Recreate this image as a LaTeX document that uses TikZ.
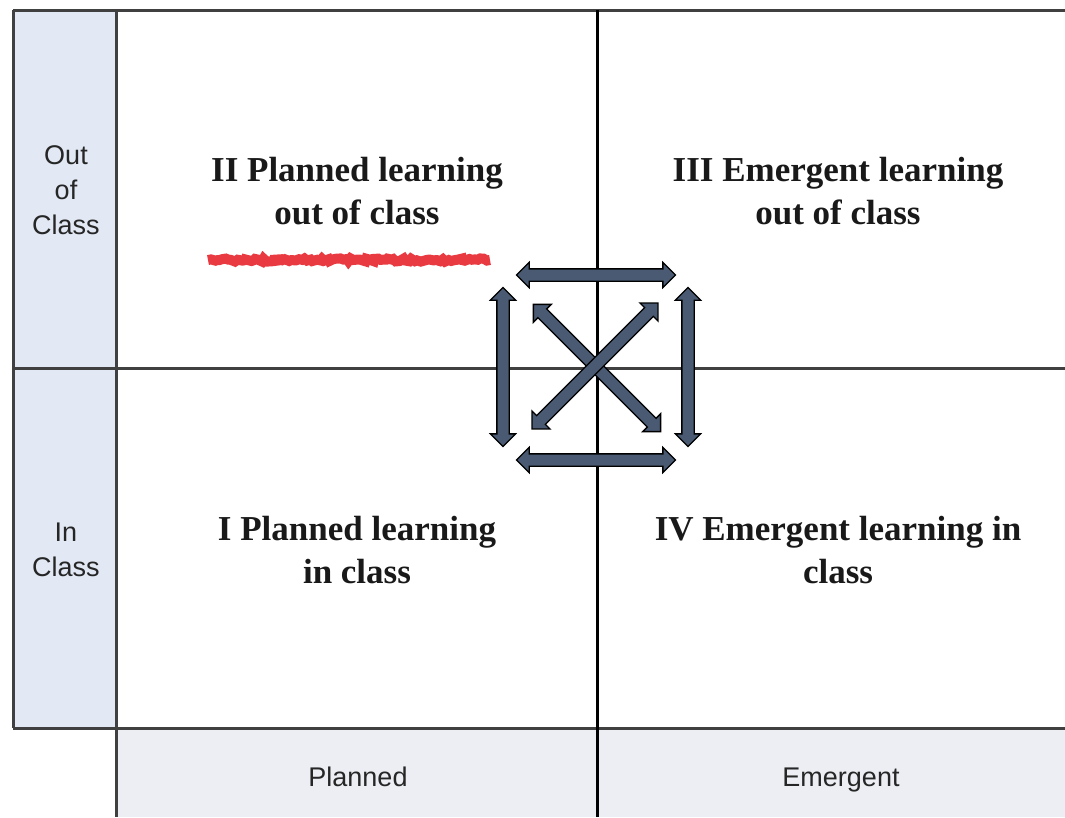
\documentclass[tikz,border=0pt]{standalone}
\usepackage{fontspec}
\setmainfont{Liberation Serif}
\setsansfont{Liberation Sans}
\usetikzlibrary{shapes.arrows,decorations.pathmorphing}
\definecolor{sidefill}{RGB}{226,233,244}
\definecolor{footfill}{RGB}{236,238,243}
\definecolor{arrowfill}{RGB}{74,90,114}
\definecolor{scribblered}{RGB}{232,58,64}
\tikzset{learngrid/.style={x=1pt,y=-1pt},
  gridline/.style={line width=3pt,draw=black!75},
  quadtext/.style={align=center,text=black!90,font=\bfseries\fontsize{35}{43}\selectfont},
  axistext/.style={align=center,text=black!85,font=\sffamily\fontsize{27}{35}\selectfont},
  twoway/.style={double arrow,draw=black,fill=arrowfill,line width=1.3pt,
    inner xsep=0pt,inner ysep=5.5pt,double arrow head extend=6.5pt,
    double arrow head indent=0pt},
  scribble/.style={scribblered,line width=10pt,decorate,
    decoration={random steps,segment length=3pt,amplitude=1.6pt}}}

\begin{document}
\begin{tikzpicture}[learngrid]
\useasboundingbox (0,0) rectangle (1065,817);

% shaded axis strips
\fill[sidefill] (13,10) rectangle (116,728);
\fill[footfill] (116,728) rectangle (1065,817);

\draw[gridline] (13,10) -- (1065,10)
      (13,10) -- (13,728)
      (116,10) -- (116,817)
      (13,368) -- (1065,368)
      (13,728) -- (1065,728);
\draw[gridline,draw=black] (597,10) -- (597,817);

% quadrants
\node[quadtext] (plannedout) at (357,191) {II Planned learning\\out of class};
\node[quadtext] (emergentout) at (838,191) {III Emergent learning\\out of class};
\node[quadtext] (plannedin) at (357,550) {I Planned learning\\in class};
\node[quadtext] (emergentin) at (838,550) {IV Emergent learning in\\class};

% axis labels
\node[axistext] (outclass) at (66,190) {Out\\of\\Class};
\node[axistext] (inclass) at (66,550) {In\\Class};
\node[axistext,anchor=base] (planned) at (358,786) {Planned};
\node[axistext,anchor=base] (emergent) at (841,786) {Emergent};

\draw[scribble] (208,260) -- (490,260);
%\draw[scribble] (210,262) -- (488,258);

% arrows round the centre
\node[twoway,minimum height=159pt] (toparrow) at (596,275) {};
\node[twoway,minimum height=159pt] (bottomarrow) at (596,460) {};
\node[twoway,minimum height=159pt,rotate=90] (leftarrow) at (503,367) {};
\node[twoway,minimum height=159pt,rotate=90] (rightarrow) at (688,367) {};
\node[twoway,minimum height=180pt,rotate=-45] (fallarrow) at (597,368) {};
\node[twoway,minimum height=178pt,rotate=45] (risearrow) at (595,366) {};

\end{tikzpicture}
\end{document}
